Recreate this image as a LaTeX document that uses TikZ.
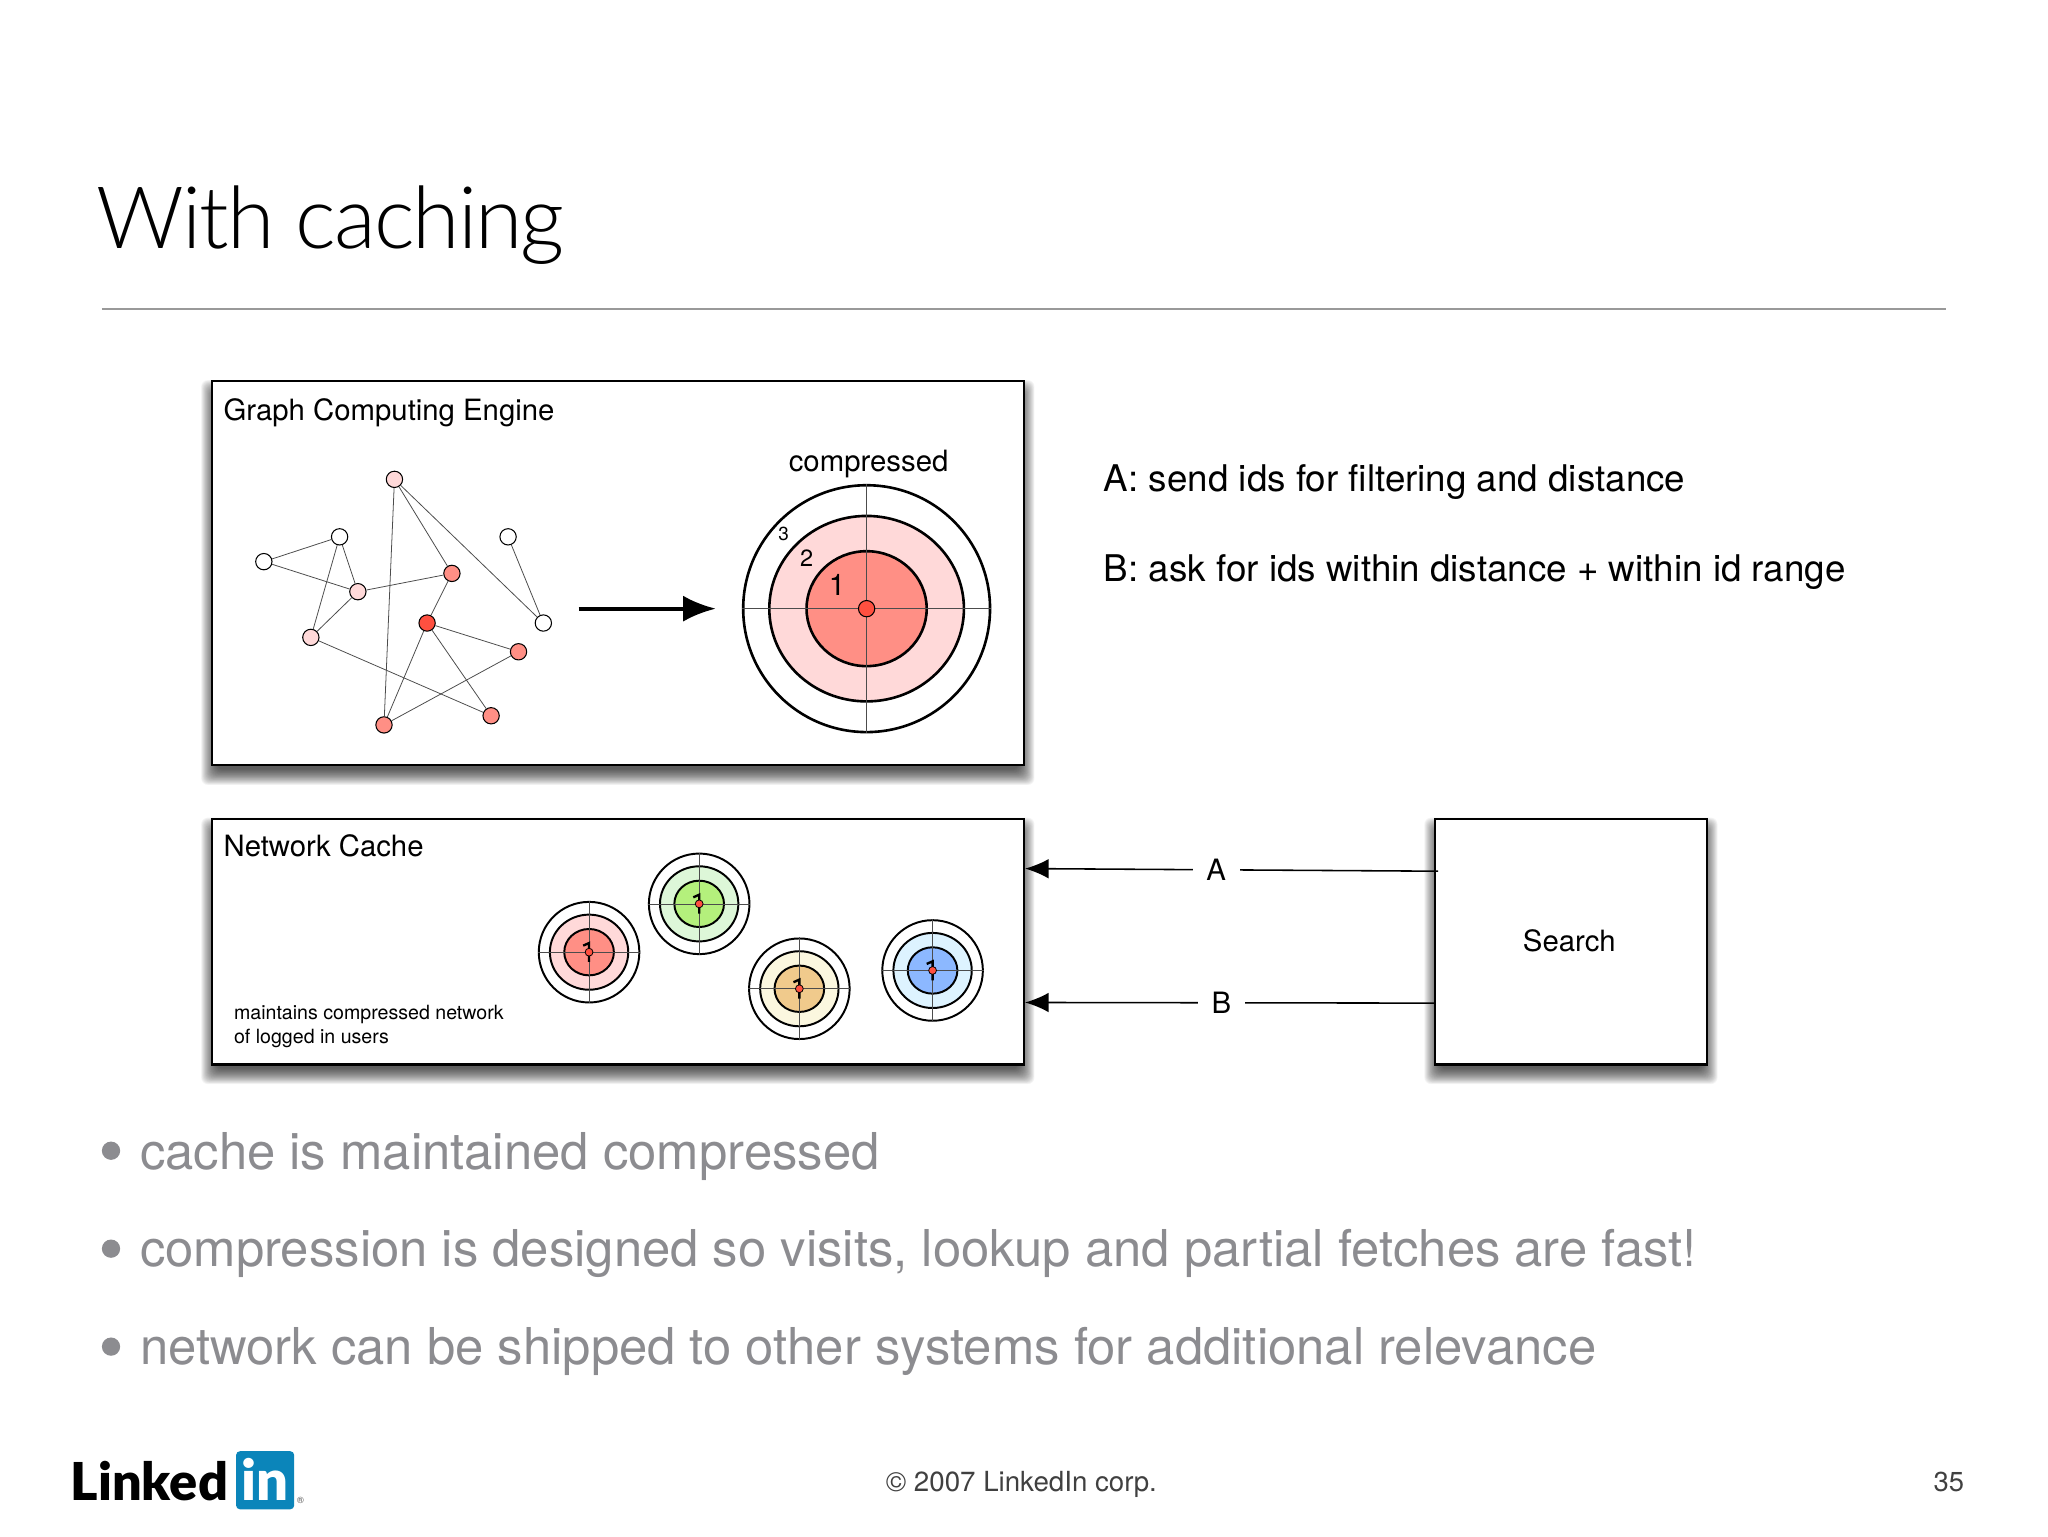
\documentclass[tikz,border=0pt]{standalone}
\usepackage{fontspec}
\setmainfont{TeX Gyre Heros}
\newfontfamily\logofont{Lato Black}
\newfontfamily\lightfont{Lato Light}[LetterSpace=-2.4]
\usetikzlibrary{arrows.meta,backgrounds,shapes.geometric}

\definecolor{tintred}{HTML}{FF8F85}
\definecolor{tintpink}{HTML}{FFD9D9}
\definecolor{hotred}{HTML}{FF5040}
\definecolor{tintgreen}{HTML}{B4F07C}
\definecolor{palegreen}{HTML}{DDF7D8}
\definecolor{tintorange}{HTML}{F0CA8C}
\definecolor{paleyellow}{HTML}{FBF7DF}
\definecolor{tintblue}{HTML}{8CB8FF}
\definecolor{paleblue}{HTML}{DDF3FF}
\definecolor{bulletgray}{HTML}{8C8C90}
\definecolor{logoblue}{HTML}{0B85BA}

\newcommand{\fsize}[1]{\fontsize{#1}{#1}\selectfont}

\tikzset{
  slidebox/.style={draw=black,line width=1.6pt,fill=white,anchor=north west,inner sep=0pt,outer sep=0pt},
  graphnode/.style={circle,draw=black,line width=0.8pt,minimum size=12.5pt,inner sep=0pt},
  graphedge/.style={draw=black!70,line width=0.6pt},
  ring/.style={ellipse,draw=black,inner sep=0pt},
  crossline/.style={draw=black!70,line width=0.5pt},
  labeltext/.style={inner sep=0pt,anchor=base west},
  bullettext/.style={inner sep=0pt,anchor=base west,text=bulletgray,font=\fsize{38.9}},
  bulletdot/.style={circle,fill=bulletgray,minimum size=14pt,inner sep=0pt},
  gaplabel/.style={fill=white,inner xsep=10.5pt,inner ysep=1pt,font=\fsize{22.5}},
  calllink/.style={-{Latex[length=18pt,width=15pt]},line width=1.2pt},
}

\newcommand{\boxshadow}[1]{
  \begin{scope}[on background layer]
    \foreach \r in {-4,-3.5,...,8}{
      \fill[black,opacity=0.04,rounded corners=5pt]
        ([xshift=-\r pt,yshift=\r pt-7pt]#1.north west) rectangle
        ([xshift=\r pt,yshift=-\r pt-7pt]#1.south east);
    }
  \end{scope}
}

\begin{document}
\begin{tikzpicture}[x=1pt,y=-1pt]

\useasboundingbox (0,0) rectangle (1568,1176);

\node[labeltext,font=\lightfont\fsize{66}] (title) at (74,190) {With caching};
\coordinate (ruleL) at (78,236.5);
\coordinate (ruleR) at (1490,236.5);
\draw[black!40,line width=1.2pt] (ruleL)--(ruleR);

% the three boxes
\node[slidebox,minimum width=622pt,minimum height=294pt] (engine) at (162,292) {};
\node[slidebox,minimum width=622pt,minimum height=188pt] (cache) at (162,627) {};
\node[slidebox,minimum width=208.5pt,minimum height=188pt] (search) at (1098.5,627) {};
\boxshadow{engine}
\boxshadow{cache}
\boxshadow{search}

\node[labeltext,font=\fsize{22.45}] (enginelabel) at (171,322) {Graph Computing Engine};
\node[labeltext,font=\fsize{22.45}] (cachelabel) at (171,656) {Network Cache};
\node[labeltext,font=\fsize{15}] (cachenote1) at (179,780.5) {maintains compressed network};
\node[labeltext,font=\fsize{15}] (cachenote2) at (179,799) {of logged in users};
\node[font=\fsize{22.45},inner sep=0pt] (searchlabel) at (1201.5,720) {Search};

% the graph
\foreach \n/\x/\y/\c in {na/302/367/tintpink,nb/260/411/white,nc/202/430/white,
  nd/389/411/white,ne/346/439/tintred,nf/274/453/tintpink,ng/327/477/hotred,
  nh/416/477/white,ni/238/488/tintpink,nj/397/499/tintred,nk/376/548/tintred,
  nl/294/555/tintred}{
  \node[graphnode,fill=\c] (\n) at (\x,\y) {};
}
\foreach \a/\b in {nc/nb,nc/nf,nb/nf,nb/ni,nf/ni,nf/ne,na/ne,na/nh,na/nl,nd/nh,
  ne/ng,ng/nj,ng/nk,ng/nl,nl/nj,ni/nk}{
  \draw[graphedge] (\a)--(\b);
}

\coordinate (arrowL) at (443,466);
\coordinate (arrowR) at (548,466);
\draw[-{Latex[length=25pt,width=20pt]},line width=3pt] (arrowL)--(arrowR);

% big target
\node[ring,line width=2pt,minimum width=189pt,minimum height=189pt] (outer) at (663.5,466) {};
\node[ring,line width=2pt,minimum width=149pt,minimum height=142pt,fill=tintpink] (middle) at (663.5,466) {};
\node[ring,line width=2pt,minimum width=92pt,minimum height=88pt,fill=tintred] (inner) at (663.5,466) {};
\draw[crossline] (outer.west)--(outer.east);
\draw[crossline] (outer.north)--(outer.south);
\node[graphnode,fill=hotred] (centre) at (663.5,466) {};
\node[font=\fsize{14.5},inner sep=0pt] (three) at (600,408.5) {3};
\node[font=\fsize{18},inner sep=0pt] (two) at (617.5,427.5) {2};
\node[font=\fsize{22.8},inner sep=0pt] (one) at (641,448) {1};
\node[font=\fsize{22.45},inner sep=0pt] (compressed) at (665,355) {compressed};

% the cached targets
\foreach \n/\x/\y/\ci/\cm in {tr/451/729/tintred/tintpink,tg/535.3/692/tintgreen/palegreen,
  ty/612/757/tintorange/paleyellow,tb/714/743/tintblue/paleblue}{
  \node[ring,line width=1.5pt,minimum width=77pt,minimum height=77pt] (\n o) at (\x,\y) {};
  \node[ring,line width=1.5pt,minimum width=60pt,minimum height=57.5pt,fill=\cm] (\n m) at (\x,\y) {};
  \node[ring,line width=1.5pt,minimum width=38pt,minimum height=35.5pt,fill=\ci] (\n i) at (\x,\y) {};
  \draw[crossline] (\n o.west)--(\n o.east);
  \draw[crossline] (\n o.north)--(\n o.south);
  \draw[line width=1.8pt] (\x-4.5,\y-5)--(\x,\y-7)--(\x,\y+7.5);
  \node[circle,draw=black,line width=0.6pt,fill=hotred,minimum size=6pt,inner sep=0pt] (\n c) at (\x,\y) {};
}

% calls from search to the cache
\coordinate (callAs) at (1101,667);
\coordinate (callAc) at (784.8,665);
\coordinate (callBs) at (1098,768);
\coordinate (callBc) at (784.8,767.5);
\draw[calllink] (callAs)-- node[gaplabel,pos=0.537] (labA) {A} (callAc);
\draw[calllink] (callBs)-- node[gaplabel,pos=0.52] (labB) {B} (callBc);

% text on the right
\node[labeltext,font=\fsize{28.15}] (explainA) at (845,376) {A: send ids for filtering and distance};
\node[labeltext,font=\fsize{28.15}] (explainB) at (845,445) {B: ask for ids within distance + within id range};

% bullets
\foreach \n/\y/\t in {one/881/cache is maintained compressed,
  two/956/{compression is designed so visits, lookup and partial fetches are fast!},
  three/1031/network can be shipped to other systems for additional relevance}{
  \node[bulletdot] (dot\n) at (85,\y) {};
  \node[bullettext] (bullet\n) at (107,\y+14) {\t};
}

% footer
\node[text=black!75,font=\fsize{21.2},inner sep=0pt] (copy) at (782,1136.5) {© 2007 LinkedIn corp.};
\node[text=black!75,font=\fsize{21},inner sep=0pt,anchor=east] (page) at (1504,1135) {35};
\node[inner sep=0pt,anchor=base west,font=\logofont\fsize{40}] (logoword) at (54,1149) {Linked};
\node[fill=logoblue,rounded corners=3pt,minimum size=44.5pt,inner sep=0pt] (logobox) at (203,1133.3) {};
\node[inner sep=0pt,anchor=base,text=white,font=\logofont\fsize{43}] (logoin) at (logobox.center |- 0,1149) {in};
\node[inner sep=0pt,font=\fsize{7},text=black!70] (logoreg) at (230,1149) {®};

\end{tikzpicture}
\end{document}
